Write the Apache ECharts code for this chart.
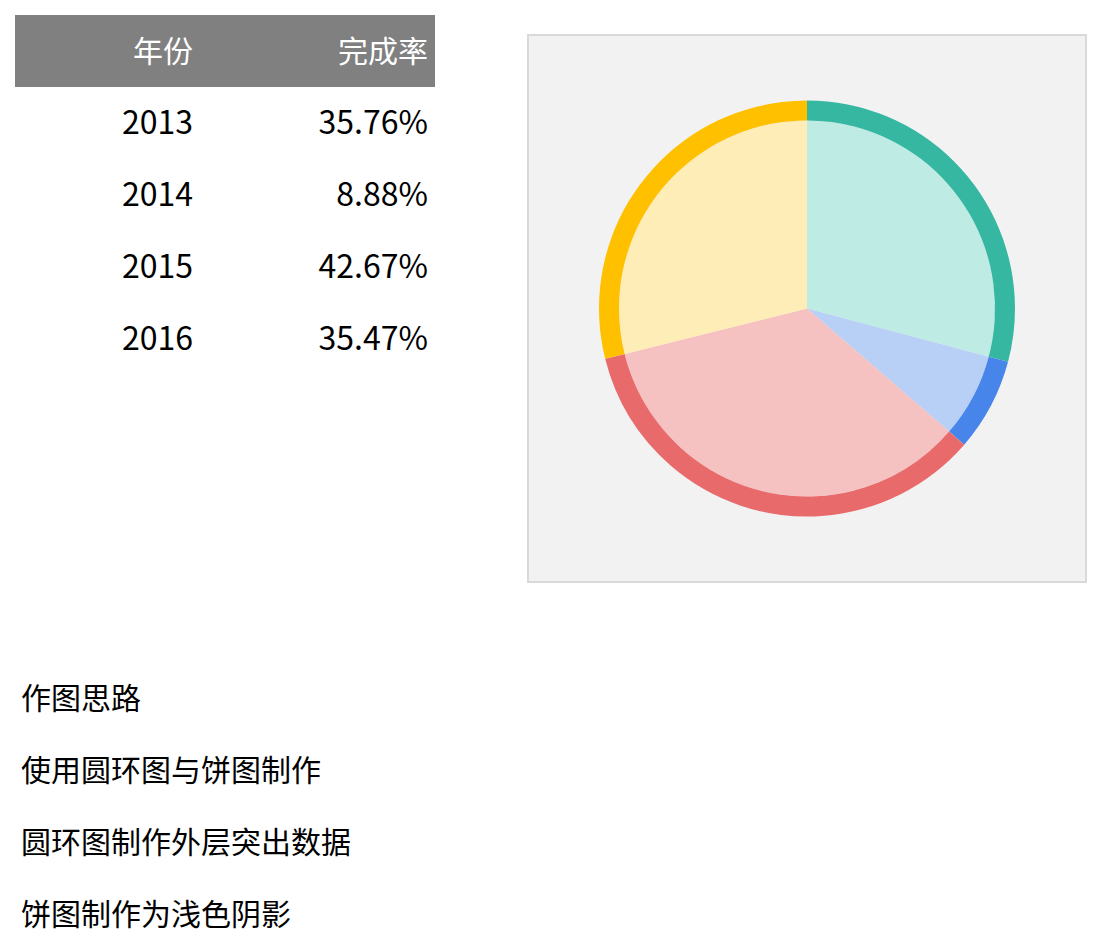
<!DOCTYPE html>
<html lang="zh">
<head>
    <meta charset="utf-8">
    <script src="https://cdn.jsdelivr.net/npm/echarts@6/dist/echarts.min.js"></script>
</head>
<body>
<style>
    body {
        margin: 0;
        background: #fff;
        font-family: "Noto Sans CJK SC", sans-serif;
        font-size: 30px;
        color: #000;
    }
    #page {
        position: relative;
        width: 1102px;
        height: 944px;
        overflow: hidden;
    }
    #table {
        position: absolute;
        left: 15px;
        top: 15px;
        width: 420px;
        border-collapse: collapse;
    }
    #table td, #table th {
        height: 72px;
        padding: 0 7px 0 0;
        text-align: right;
        font-weight: normal;
        line-height: 72px;
    }
    #table th {
        background: #808080;
        color: #fff;
    }
    #table th span { position: relative; top: -2px; }
    #table td { font-size: 32px; }
    #table td span { position: relative; top: -3px; }
    #table .c1 { width: 178px; }
    #main {
        position: absolute;
        left: 527px;
        top: 34px;
        width: 560px;
        height: 549px;
        box-sizing: border-box;
        border: 2px solid #d9d9d9;
        background: #f2f2f2;
    }
    #notes {
        position: absolute;
        left: 21px;
        top: 660px;
    }
    #notes div {
        height: 72px;
        line-height: 72px;
    }
</style>

<div id="page">
    <table id="table"></table>
    <div id="main"></div>
    <div id="notes"></div>
</div>

<script>
    var headers = ['年份', '完成率'];
    var years = ['2013', '2014', '2015', '2016'];
    var rates = [35.76, 8.88, 42.67, 35.47];
    var notes = ['作图思路', '使用圆环图与饼图制作', '圆环图制作外层突出数据', '饼图制作为浅色阴影'];

    var ringColors = ['#36b7a1', '#4785ea', '#e86a6b', '#ffc000'];
    var shadeColors = ['#bfebe5', '#b8cff6', '#f5c1c1', '#ffedb8'];

    // table
    var html = '<tr><th class="c1"><span>' + headers[0] + '</span></th><th><span>' + headers[1] + '</span></th></tr>';
    for (var i = 0; i < years.length; i++) {
        html += '<tr><td class="c1"><span>' + years[i] + '</span></td><td><span>' + rates[i].toFixed(2) + '%</span></td></tr>';
    }
    document.getElementById('table').innerHTML = html;

    document.getElementById('notes').innerHTML = notes.map(function (t) {
        return '<div>' + t + '</div>';
    }).join('');

    function pieData(colors) {
        return years.map(function (y, i) {
            return { name: y, value: rates[i], itemStyle: { color: colors[i] } };
        });
    }

    var chart = echarts.init(document.getElementById('main'));
    chart.setOption({
        animation: false,
        series: [
            {
                type: 'pie',
                center: ['50%', '50%'],
                radius: [0, 188],
                startAngle: 90,
                clockwise: true,
                silent: true,
                label: { show: false },
                labelLine: { show: false },
                itemStyle: { borderWidth: 0 },
                data: pieData(shadeColors)
            },
            {
                type: 'pie',
                center: ['50%', '50%'],
                radius: [188, 208],
                startAngle: 90,
                clockwise: true,
                silent: true,
                label: { show: false },
                labelLine: { show: false },
                itemStyle: { borderWidth: 0 },
                data: pieData(ringColors)
            }
        ]
    });
</script>
</body>
</html>
